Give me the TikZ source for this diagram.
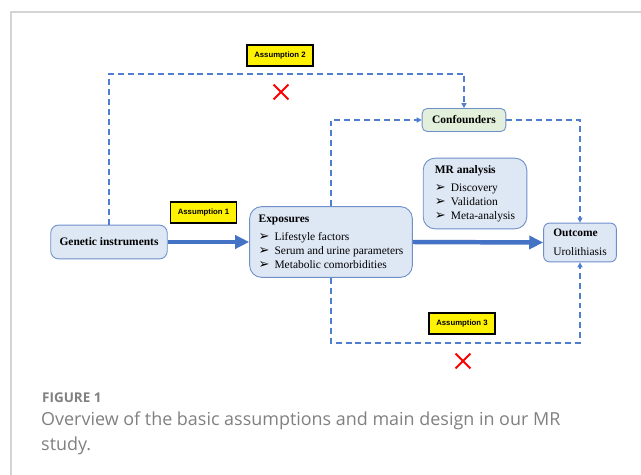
\documentclass[tikz,border=0pt]{standalone}
\usepackage{fontspec}
\setmainfont{Liberation Serif}
\newfontfamily\tagfont{Liberation Sans}
\newfontfamily\capfont{Open Sans}
\newfontfamily\symfont{DejaVu Sans}
\usetikzlibrary{arrows.meta, shapes.misc, calc}
\definecolor{mrblue}{HTML}{4472C4}
\definecolor{dashblue}{HTML}{4F7ED0}
\definecolor{boxfill}{HTML}{DEE7F4}
\definecolor{boxline}{HTML}{6F8FCB}
\definecolor{confill}{HTML}{E2EFDA}
\definecolor{capgrey}{HTML}{808080}
\definecolor{framegrey}{HTML}{D4D4D4}
\newcommand{\arrowitem}{\makebox[16pt][l]{\symfont\fontsize{13}{13}\selectfont ➢}}

\begin{document}
\begin{tikzpicture}[x=1bp, y=-1bp,
	box/.style={draw=boxline, fill=boxfill, line width=0.9pt, font=\fontsize{11.5}{14}\selectfont},
	tagbox/.style={draw=black, fill=yellow, line width=1.3pt, minimum width=66pt, minimum height=21pt,
		inner sep=0pt, font=\tagfont\bfseries\fontsize{7.8}{9}\selectfont},
	dashline/.style={dashblue, line width=1.8bp, dash pattern=on 6pt off 4pt, -{Triangle[length=5pt,width=5pt]}},
	mainarrow/.style={mrblue, line width=4.5pt, -{Triangle[length=14pt,width=13pt]}},
	nomark/.style={cross out, draw=red, line width=2pt, minimum size=13pt, inner sep=0pt}]
	\useasboundingbox (0,0) rectangle (641,475);
	\draw [framegrey, line width=1.5bp] (11,475) -- (11,12) -- (641,12);

	\node [box, rounded corners=8pt, minimum width=117pt, minimum height=34pt, font=\fontsize{11.5}{14}\selectfont\bfseries] (gen) at (109,242) {Genetic instruments};
	\node [box, rounded corners=12pt, align=left, inner xsep=9pt, minimum height=71pt] (exp) at (331,242) {%
		\textbf{Exposures}\\[4pt]
		\arrowitem Lifestyle factors\\
		\arrowitem Serum and urine parameters\\
		\arrowitem Metabolic comorbidities};
	\node [box, rounded corners=12pt, align=left, minimum width=104pt, minimum height=71pt] (mr) at (475,193.5) {%
		\textbf{MR analysis}\\[4pt]
		\arrowitem Discovery\\
		\arrowitem Validation\\
		\arrowitem Meta-analysis};
	\node [box, rounded corners=6pt, align=left, minimum width=73pt, minimum height=39pt] (out) at (580,242.5) {%
		\textbf{Outcome}\\[5pt]
		Urolithiasis};
	\node [box, fill=confill, rounded corners=5pt, minimum width=84pt, minimum height=23pt, font=\fontsize{11.5}{14}\selectfont\bfseries] (conf) at (464,120) {Confounders};

	\node [tagbox] (a1) at (203.5,212.5) {Assumption 1};
	\node [tagbox] (a2) at (280,55.5) {Assumption 2};
	\node [tagbox] (a3) at (462,323.5) {Assumption 3};

	\draw [mainarrow] (gen.east) -- (exp.west);
	\draw [mainarrow] (exp.east) -- (out.west);

	\coordinate (top2) at (280,74);
	\coordinate (bot3) at (462,343);
	\draw [dashline] (gen.north) |- (top2) -| (conf.north);
	\draw [dashline] (exp.north) |- (conf.west);
	\draw [dashline] (conf.east) -| (out.north);
	\draw [dashline] (exp.south) |- (bot3) -| (out.south);

	\node [nomark] (x2) at (281,92) {};
	\node [nomark] (x3) at (463,361) {};

	\node [anchor=base west, inner sep=0pt, text=capgrey, font=\capfont\bfseries\fontsize{13.5}{15}\selectfont] (figlabel) at (42,402) {FIGURE 1};
	\node [anchor=north west, inner sep=0pt, align=left, text=capgrey, font=\capfont\fontsize{18}{25}\selectfont] (caption) at (41,412) {Overview of the basic assumptions and main design in our MR\\study.};
\end{tikzpicture}
\end{document}
